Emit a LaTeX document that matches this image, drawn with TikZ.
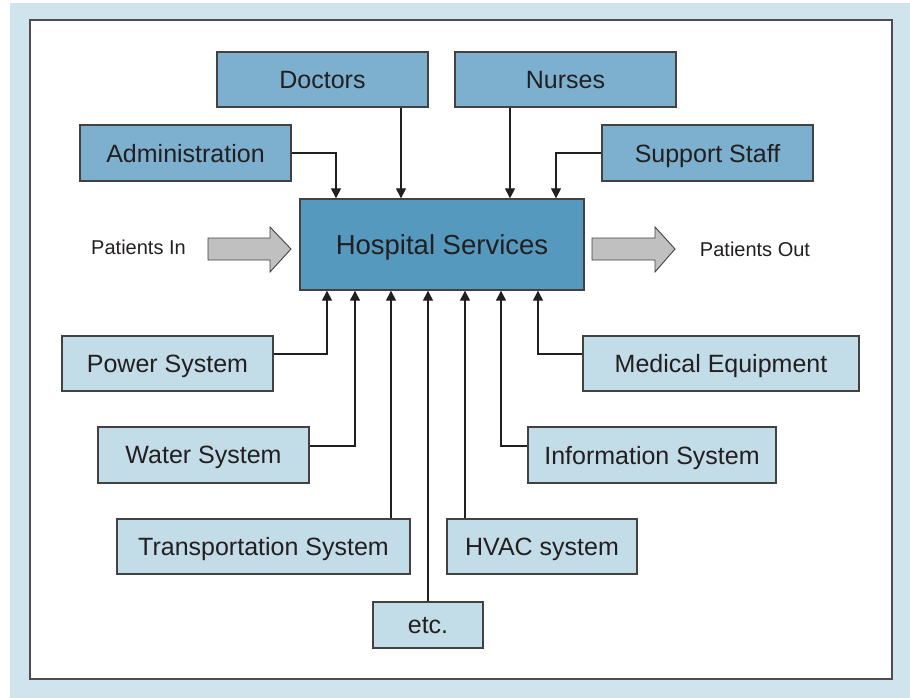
\documentclass[tikz,border=0pt]{standalone}
\usepackage{fontspec}
\setmainfont{Liberation Sans}
\usetikzlibrary{arrows.meta}
\definecolor{staff}{HTML}{7CB0CE}
\definecolor{core}{HTML}{5599BE}
\definecolor{infra}{HTML}{C2DCE8}
\definecolor{frame}{HTML}{D0E4EE}
\definecolor{ink}{HTML}{231F20}
\definecolor{flowgray}{HTML}{C0C0C0}

\begin{document}
\begin{tikzpicture}[x=1pt, y=-1pt, >={Triangle[length=10pt,width=10pt]},
  box/.style={draw=ink!85, line width=1.3pt, inner sep=0pt, text depth=0pt, text=ink, font=\fontsize{25}{29}\selectfont},
  link/.style={->, draw=ink, line width=1.1pt}]
% frame
\fill[white] (0,0) rectangle (910,698);
\fill[frame] (10,3) rectangle (910,698);
\draw[fill=white, draw=ink!80, line width=1.3pt] (30,20) rectangle (892,679);

% staff boxes
\node[box, fill=staff, minimum width=211pt, minimum height=55pt] (doctors) at (322.5,79.5) {Doctors};
\node[box, fill=staff, minimum width=221pt, minimum height=55pt] (nurses) at (565.5,79.5) {Nurses};
\node[box, fill=staff, minimum width=211pt, minimum height=56pt] (admin) at (185.5,153) {Administration};
\node[box, fill=staff, minimum width=211pt, minimum height=56pt] (support) at (707.5,153) {Support Staff};

% center
\node[box, fill=core, minimum width=284pt, minimum height=91pt, font=\fontsize{27.5}{32}\selectfont] (hosp) at (442,244.5) {Hospital Services};

% patients
\node[text=ink, text depth=0pt, font=\fontsize{20}{24}\selectfont] (pin) at (138.5,247) {Patients In};
\node[text=ink, text depth=0pt, font=\fontsize{20}{24}\selectfont] (pout) at (755,249) {Patients Out};
\draw[fill=flowgray, draw=ink!85, line width=0.9pt] (208,238) -- (270,238) -- (270,227) -- (291,249) -- (270,272) -- (270,260) -- (208,260) -- cycle;
\draw[fill=flowgray, draw=ink!85, line width=0.9pt] (592,238) -- (655,238) -- (655,227) -- (675,249) -- (655,272) -- (655,260) -- (592,260) -- cycle;

% infrastructure boxes
\node[box, fill=infra, minimum width=211pt, minimum height=55pt] (power) at (167.5,363.5) {Power System};
\node[box, fill=infra, minimum width=211pt, minimum height=56pt] (water) at (203.5,455) {Water System};
\node[box, fill=infra, minimum width=293pt, minimum height=55pt] (transp) at (263.5,546.5) {Transportation System};
\node[box, fill=infra, minimum width=110pt, minimum height=46pt] (etc) at (428,625) {etc.};
\node[box, fill=infra, minimum width=190pt, minimum height=55pt] (hvac) at (542,546.5) {HVAC system};
\node[box, fill=infra, minimum width=248pt, minimum height=56pt] (info) at (652,455) {Information System};
\node[box, fill=infra, minimum width=276pt, minimum height=55pt] (medical) at (721,363.5) {Medical Equipment};

% inputs from above
\draw[link] (admin.east |- 0,153) -| (hosp.north -| 336,0);
\draw[link] (doctors.south -| 401,0) -- (hosp.north -| 401,0);
\draw[link] (nurses.south -| 510,0) -- (hosp.north -| 510,0);
\draw[link] (support.west |- 0,153) -| (hosp.north -| 556,0);

% inputs from below
\draw[link] (power.east |- 0,354) -| (hosp.south -| 327,0);
\draw[link] (water.east |- 0,446) -| (hosp.south -| 355,0);
\draw[link] (transp.north -| 391,0) -- (hosp.south -| 391,0);
\draw[link] (etc.north -| 428,0) -- (hosp.south -| 428,0);
\draw[link] (hvac.north -| 465,0) -- (hosp.south -| 465,0);
\draw[link] (info.west |- 0,446) -| (hosp.south -| 501,0);
\draw[link] (medical.west |- 0,354) -| (hosp.south -| 538,0);
\end{tikzpicture}
\end{document}
